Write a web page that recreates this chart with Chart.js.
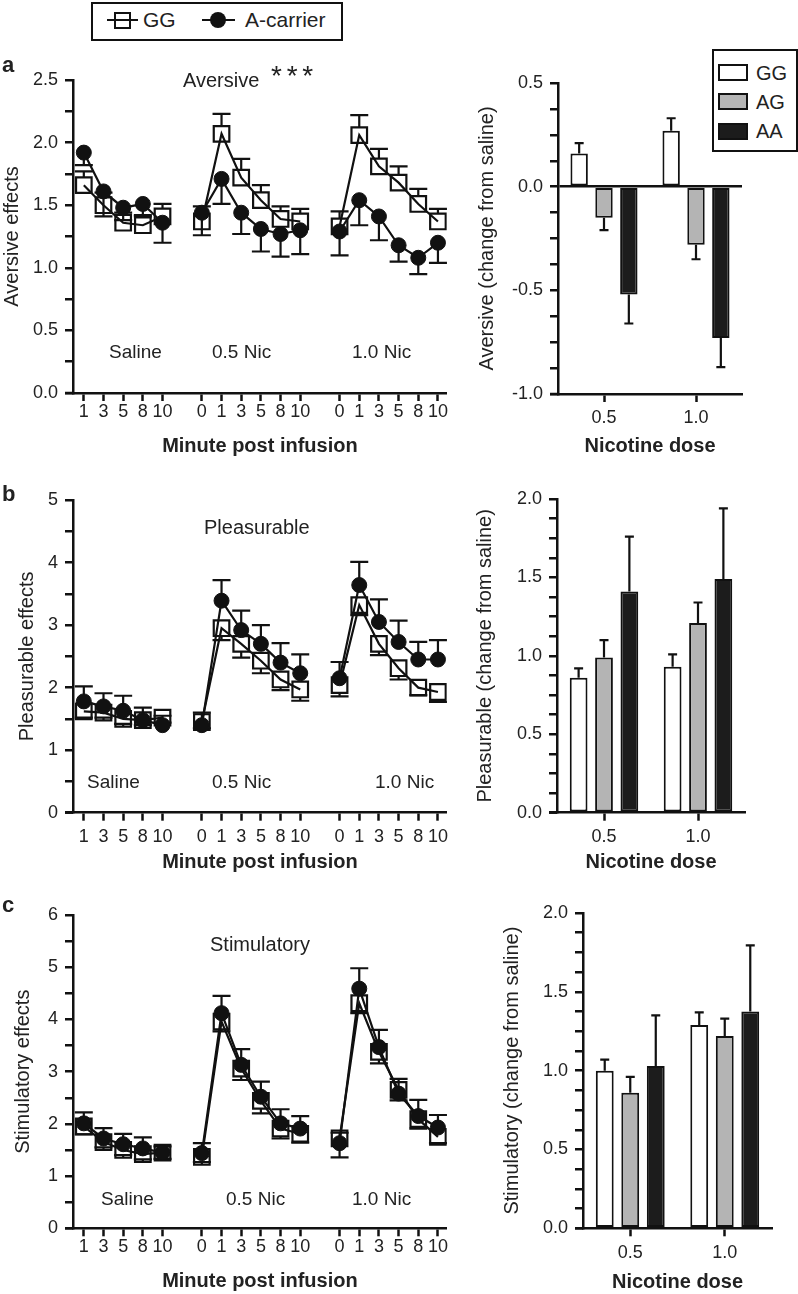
<!DOCTYPE html>
<html>
<head>
<meta charset="utf-8">
<script src="https://cdn.jsdelivr.net/npm/chart.js@4.4.0/dist/chart.umd.min.js"></script>
<style>
  body { margin: 0; background: #fff; width: 798px; height: 1294px; position: relative; overflow: hidden;
         font-family: "Liberation Sans", Arial, sans-serif; color: #222; }
  canvas { position: absolute; }
  .t { position: absolute; white-space: nowrap; line-height: 1; }
  .lbl { font-size: 22px; font-weight: bold; }
  .ann { font-size: 19px; }
  .ttl { font-size: 20px; }
  .box { position: absolute; border: 2px solid #111; box-sizing: border-box; background: #fff; }
  .sw { position: absolute; border: 2px solid #111; box-sizing: border-box; }
</style>
</head>
<body>
<canvas id="aLeft"></canvas>
<canvas id="aRight"></canvas>
<canvas id="bLeft"></canvas>
<canvas id="bRight"></canvas>
<canvas id="cLeft"></canvas>
<canvas id="cRight"></canvas>

<!-- legend for line panels -->
<div class="box" style="left:91px;top:2px;width:252px;height:39px;"></div>
<div style="position:absolute;left:107px;top:19px;width:31px;height:2px;background:#111"></div>
<div style="position:absolute;left:114px;top:12px;width:17px;height:17px;border:2px solid #111;box-sizing:border-box"></div>
<div class="t" style="left:143px;top:9px;font-size:21px">GG</div>
<div style="position:absolute;left:202px;top:19px;width:33px;height:2px;background:#111"></div>
<div style="position:absolute;left:210px;top:12px;width:16px;height:16px;border-radius:50%;background:#111"></div>
<div class="t" style="left:245px;top:9px;font-size:21px">A-carrier</div>

<!-- legend for bar panels -->
<div class="box" style="left:712px;top:49px;width:86px;height:103px;"></div>
<div class="sw" style="left:718px;top:64px;width:30px;height:17px;background:#fff"></div>
<div class="sw" style="left:718px;top:93px;width:30px;height:17px;background:#b4b4b4"></div>
<div class="sw" style="left:718px;top:123px;width:30px;height:17px;background:#1c1c1c"></div>
<div class="t ttl" style="left:756px;top:63px">GG</div>
<div class="t ttl" style="left:756px;top:92px">AG</div>
<div class="t ttl" style="left:756px;top:121px">AA</div>

<!-- panel letters and in-plot labels -->
<div class="t lbl" style="left:2px;top:54px">a</div>
<div class="t lbl" style="left:2px;top:483px">b</div>
<div class="t lbl" style="left:2px;top:894px">c</div>

<div class="t ttl" style="left:183px;top:70px">Aversive</div>
<div class="t" style="left:271px;top:62px;font-size:28px;word-spacing:-3px">* * *</div>
<div class="t ann" style="left:109px;top:342px">Saline</div>
<div class="t ann" style="left:212px;top:342px">0.5 Nic</div>
<div class="t ann" style="left:352px;top:342px">1.0 Nic</div>

<div class="t ttl" style="left:204px;top:517px">Pleasurable</div>
<div class="t ann" style="left:87px;top:772px">Saline</div>
<div class="t ann" style="left:212px;top:772px">0.5 Nic</div>
<div class="t ann" style="left:375px;top:772px">1.0 Nic</div>

<div class="t ttl" style="left:210px;top:934px">Stimulatory</div>
<div class="t ann" style="left:101px;top:1189px">Saline</div>
<div class="t ann" style="left:226px;top:1189px">0.5 Nic</div>
<div class="t ann" style="left:352px;top:1189px">1.0 Nic</div>

<script>
// ---- data: minute labels ----
const salineMinutes = [1, 3, 5, 8, 10];
const nicMinutes = [0, 1, 3, 5, 8, 10];
const doseLabels = ['0.5', '1.0'];

// line panels: saline (5) + 0.5 Nic (6) + 1.0 Nic (6)
const aversiveGG     = [1.66, 1.50, 1.36, 1.34, 1.41,  1.37, 2.07, 1.72, 1.54, 1.39, 1.37,  1.33, 2.06, 1.81, 1.68, 1.51, 1.37];
const aversiveGGErr  = [0.11, 0.10, 0.08, 0.08, 0.10,  0.12, 0.16, 0.15, 0.12, 0.10, 0.10,  0.12, 0.16, 0.14, 0.13, 0.12, 0.10];
const aversiveAC     = [1.92, 1.61, 1.48, 1.51, 1.36,  1.44, 1.71, 1.44, 1.31, 1.27, 1.30,  1.29, 1.54, 1.41, 1.18, 1.08, 1.20];
const aversiveACErr  = [0.10, 0.20, 0.10, 0.10, 0.16,  0.18, 0.20, 0.17, 0.18, 0.18, 0.19,  0.19, 0.20, 0.19, 0.13, 0.13, 0.16];

const pleasGG        = [1.62, 1.60, 1.50, 1.48, 1.52,  1.45, 2.95, 2.70, 2.43, 2.13, 1.97,  2.04, 3.32, 2.70, 2.31, 2.00, 1.93];
const pleasGGErr     = [0.10, 0.08, 0.08, 0.08, 0.08,  0.10, 0.19, 0.22, 0.20, 0.17, 0.18,  0.18, 0.16, 0.18, 0.18, 0.12, 0.16];
const pleasAC        = [1.78, 1.70, 1.63, 1.48, 1.40,  1.40, 3.39, 2.92, 2.70, 2.40, 2.23,  2.15, 3.64, 3.05, 2.73, 2.45, 2.45];
const pleasACErr     = [0.24, 0.21, 0.24, 0.20, 0.15,  0.20, 0.33, 0.31, 0.30, 0.31, 0.30,  0.26, 0.37, 0.36, 0.34, 0.28, 0.31];

const stimGG         = [1.95, 1.65, 1.50, 1.42, 1.45,  1.37, 3.96, 3.06, 2.44, 1.91, 1.81,  1.72, 4.31, 3.38, 2.65, 2.09, 1.75];
const stimGGErr      = [0.15, 0.10, 0.10, 0.10, 0.12,  0.10, 0.19, 0.22, 0.24, 0.19, 0.17,  0.36, 0.19, 0.22, 0.20, 0.18, 0.12];
const stimAC         = [2.01, 1.72, 1.61, 1.53, 1.45,  1.44, 4.12, 3.13, 2.52, 2.01, 1.91,  1.63, 4.59, 3.47, 2.58, 2.15, 1.93];
const stimACErr      = [0.21, 0.20, 0.20, 0.21, 0.12,  0.19, 0.33, 0.30, 0.29, 0.27, 0.24,  0.20, 0.39, 0.33, 0.28, 0.31, 0.24];

// bar panels: change from saline at 0.5 and 1.0 nicotine dose
const aversiveBarGG = [0.16, 0.27],  aversiveBarGGErr = [0.05, 0.06];
const aversiveBarAG = [-0.15, -0.28], aversiveBarAGErr = [0.06, 0.07];
const aversiveBarAA = [-0.52, -0.73], aversiveBarAAErr = [0.14, 0.14];

const pleasBarGG = [0.86, 0.93], pleasBarGGErr = [0.06, 0.08];
const pleasBarAG = [0.99, 1.21], pleasBarAGErr = [0.11, 0.13];
const pleasBarAA = [1.41, 1.49], pleasBarAAErr = [0.35, 0.45];

const stimBarGG = [1.00, 1.29], stimBarGGErr = [0.07, 0.08];
const stimBarAG = [0.86, 1.22], stimBarAGErr = [0.10, 0.11];
const stimBarAA = [1.03, 1.375], stimBarAAErr = [0.32, 0.42];

// ---- styling ----
const INK = '#111';
const TXT = '#222';
const FONT = '"Liberation Sans", Arial, sans-serif';

// x slots: saline 0..4, gap, 0.5 Nic 6..11, gap, 1.0 Nic 13..18
const xPos = [];
const xTickText = {};
salineMinutes.forEach((m, i) => { xPos.push(i); xTickText[i] = String(m); });
nicMinutes.forEach((m, i) => { xPos.push(6 + i); xTickText[6 + i] = String(m); });
nicMinutes.forEach((m, i) => { xPos.push(13 + i); xTickText[13 + i] = String(m); });

function withBreaks(vals, mk) {
  const out = [];
  vals.forEach((v, i) => {
    if (i === 5 || i === 11) out.push(mk(xPos[i] - 1, null));
    out.push(mk(xPos[i], v));
  });
  return out;
}
const toPoints = vals => withBreaks(vals, (x, y) => ({ x: x, y: y }));
const toErr = vals => withBreaks(vals, (x, y) => y);

// error bars drawn through the chart's own y scale
const errorBars = {
  id: 'errorBars',
  beforeDatasetsDraw(chart) { drawErrors(chart, 'line'); },
  afterDatasetsDraw(chart) { drawErrors(chart, 'bar'); },
  afterDraw(chart) {
    // x axis line runs on past the y axis to the end of its ticks, as in the figure
    const { ctx, chartArea } = chart;
    ctx.save();
    ctx.strokeStyle = INK;
    ctx.lineWidth = 2.5;
    ctx.beginPath();
    ctx.moveTo(chartArea.left - 8, chartArea.bottom);
    ctx.lineTo(chartArea.left, chartArea.bottom);
    ctx.stroke();
    ctx.restore();
  }
};
function drawErrors(chart, type) {
  const ctx = chart.ctx;
  const ys = chart.scales.y;
  chart.data.datasets.forEach((ds, i) => {
    const meta = chart.getDatasetMeta(i);
    if (!ds.errors || meta.type !== type) return;
    ctx.save();
    ctx.strokeStyle = INK;
    ctx.lineWidth = 2.2;
    meta.data.forEach((el, j) => {
      const raw = ds.data[j];
      const v = (raw !== null && typeof raw === 'object') ? raw.y : raw;
      const e = ds.errors[j];
      if (v == null || e == null) return;
      const dir = ds.errDir || (v < 0 ? -1 : 1);
      const yEnd = ys.getPixelForValue(v + dir * e);
      let yStart = type === 'bar' ? el.y : ys.getPixelForValue(v);
      if (ds.pointStyle === 'rect') yStart -= dir * 8;
      const cap = type === 'bar' ? 9 : 18;
      ctx.beginPath();
      ctx.moveTo(el.x, yStart);
      ctx.lineTo(el.x, yEnd);
      ctx.moveTo(el.x - cap / 2, yEnd);
      ctx.lineTo(el.x + cap / 2, yEnd);
      ctx.stroke();
    });
    ctx.restore();
  });
}

function place(id, g) {
  const c = document.getElementById(id);
  c.width = g.w; c.height = g.h;
  c.style.left = g.left + 'px'; c.style.top = g.top + 'px';
  c.style.width = g.w + 'px'; c.style.height = g.h + 'px';
  return c;
}

function yAxis(g, min, max, step, labelStep, decimals, title, zeroLine) {
  const n = Math.round((max - min) / step);
  return {
    type: 'linear', min: min, max: max,
    afterFit: s => { s.width = g.yW; },
    afterBuildTicks: s => {
      const t = [];
      for (let i = 0; i <= n; i++) t.push({ value: +(min + i * step).toFixed(4) });
      s.ticks = t;
    },
    ticks: {
      autoSkip: false, color: TXT, padding: 7, font: { family: FONT, size: 18 },
      callback: v => {
        const k = v / labelStep;
        return Math.abs(k - Math.round(k)) < 1e-6 ? (Math.abs(v) < 1e-9 ? 0 : v).toFixed(decimals) : '';
      }
    },
    grid: {
      drawOnChartArea: !!zeroLine,
      color: c => (zeroLine && c.tick && Math.abs(c.tick.value) < 1e-9) ? INK : 'rgba(0,0,0,0)',
      lineWidth: 2.5, tickLength: 8, tickWidth: 2.5, tickColor: INK
    },
    border: { color: INK, width: 2.5 },
    title: { display: true, text: title, color: TXT, font: { family: FONT, size: 20 }, padding: { top: g.yTitlePad, bottom: 0 } }
  };
}

function xTitle(text) {
  return { display: true, text: text, color: TXT, font: { family: FONT, size: 20, weight: 'bold' }, padding: { top: 0, bottom: 0 } };
}

function lineChart(id, g, cfg) {
  const canvas = place(id, g);
  return new Chart(canvas, {
    type: 'line',
    data: {
      datasets: [
        { label: 'A-carrier', data: toPoints(cfg.ac), errors: toErr(cfg.acErr), errDir: cfg.acDir, order: 0,
          pointStyle: 'circle', pointRadius: 7.5, pointBackgroundColor: INK, pointBorderColor: INK, pointBorderWidth: 1,
          borderColor: INK, borderWidth: 2.2 },
        { label: 'GG', data: toPoints(cfg.gg), errors: toErr(cfg.ggErr), errDir: cfg.ggDir, order: 1,
          pointStyle: 'rect', pointRadius: 11, pointBackgroundColor: 'rgba(0,0,0,0)', pointBorderColor: INK, pointBorderWidth: 2.2,
          borderColor: INK, borderWidth: 2.2 }
      ]
    },
    options: {
      responsive: false, animation: false, events: [],
      layout: { padding: { top: g.padTop, right: g.padRight, left: 0, bottom: 0 } },
      plugins: { legend: { display: false }, tooltip: { enabled: false } },
      scales: {
        x: {
          type: 'linear', min: -0.55, max: 18.45,
          afterFit: s => { s.height = g.xH; },
          afterBuildTicks: s => { s.ticks = xPos.map(v => ({ value: v })); },
          ticks: { autoSkip: false, maxRotation: 0, color: TXT, padding: g.xTickPad, font: { family: FONT, size: 18 },
                   callback: v => xTickText[v] !== undefined ? xTickText[v] : '' },
          grid: { drawOnChartArea: false, tickLength: 8, tickWidth: 2.5, tickColor: INK },
          border: { color: INK, width: 2.5 },
          title: xTitle('Minute post infusion')
        },
        y: yAxis(g, 0, cfg.max, 0.5 * cfg.minor, cfg.labelStep, cfg.dec, cfg.title, false)
      }
    },
    plugins: [errorBars]
  });
}

function barChart(id, g, cfg) {
  const canvas = place(id, g);
  const common = { borderColor: INK, borderWidth: 2, borderSkipped: false, categoryPercentage: 0.81, barPercentage: 0.7 };
  return new Chart(canvas, {
    type: 'bar',
    data: {
      labels: doseLabels,
      datasets: [
        Object.assign({ label: 'GG', data: cfg.gg, errors: cfg.ggErr, backgroundColor: '#ffffff' }, common),
        Object.assign({ label: 'AG', data: cfg.ag, errors: cfg.agErr, backgroundColor: '#b4b4b4' }, common),
        Object.assign({ label: 'AA', data: cfg.aa, errors: cfg.aaErr, backgroundColor: '#1c1c1c' }, common)
      ]
    },
    options: {
      responsive: false, animation: false, events: [],
      layout: { padding: { top: g.padTop, right: g.padRight, left: 0, bottom: 0 } },
      plugins: { legend: { display: false }, tooltip: { enabled: false } },
      scales: {
        x: {
          afterFit: s => { s.height = g.xH; },
          ticks: { color: TXT, padding: g.xTickPad, maxRotation: 0, font: { family: FONT, size: 18 } },
          grid: { drawOnChartArea: false, offset: false, tickLength: 8, tickWidth: 2.5, tickColor: INK },
          border: { color: INK, width: 2.5 },
          title: xTitle('Nicotine dose')
        },
        y: yAxis(g, cfg.min, cfg.max, 0.125, 0.5, 1, cfg.title, cfg.min < 0)
      }
    },
    plugins: [errorBars]
  });
}

// ---- panels ----
lineChart('aLeft', { left: 0, top: 60, w: 460, h: 398, yW: 73, xH: 65, padTop: 20, padRight: 12, yTitlePad: 0, xTickPad: 0 },
  { gg: aversiveGG, ggErr: aversiveGGErr, ggDir: 1, ac: aversiveAC, acErr: aversiveACErr, acDir: -1,
    max: 2.5, minor: 0.5, labelStep: 0.5, dec: 1, title: 'Aversive effects' });

lineChart('bLeft', { left: 0, top: 480, w: 460, h: 394, yW: 73, xH: 61.3, padTop: 20, padRight: 12, yTitlePad: 15, xTickPad: 6 },
  { gg: pleasGG, ggErr: pleasGGErr, ggDir: -1, ac: pleasAC, acErr: pleasACErr, acDir: 1,
    max: 5, minor: 1, labelStep: 1, dec: 0, title: 'Pleasurable effects' });

lineChart('cLeft', { left: 0, top: 895, w: 460, h: 398, yW: 73, xH: 64.7, padTop: 20, padRight: 12, yTitlePad: 11, xTickPad: 0 },
  { gg: stimGG, ggErr: stimGGErr, ggDir: -1, ac: stimAC, acErr: stimACErr, acDir: 1,
    max: 6, minor: 1, labelStep: 1, dec: 0, title: 'Stimulatory effects' });

barChart('aRight', { left: 470, top: 63, w: 328, h: 395, yW: 88, xH: 64, padTop: 20, padRight: 56, yTitlePad: 5, xTickPad: 5 },
  { gg: aversiveBarGG, ggErr: aversiveBarGGErr, ag: aversiveBarAG, agErr: aversiveBarAGErr, aa: aversiveBarAA, aaErr: aversiveBarAAErr,
    min: -1, max: 0.5, title: 'Aversive (change from saline)' });

barChart('bRight', { left: 470, top: 479, w: 328, h: 395, yW: 87, xH: 61.3, padTop: 20, padRight: 53, yTitlePad: 3, xTickPad: 6 },
  { gg: pleasBarGG, ggErr: pleasBarGGErr, ag: pleasBarAG, agErr: pleasBarAGErr, aa: pleasBarAA, aaErr: pleasBarAAErr,
    min: 0, max: 2, title: 'Pleasurable (change from saline)' });

barChart('cRight', { left: 470, top: 893, w: 328, h: 401, yW: 113, xH: 65.7, padTop: 20, padRight: 26, yTitlePad: 30, xTickPad: 6 },
  { gg: stimBarGG, ggErr: stimBarGGErr, ag: stimBarAG, agErr: stimBarAGErr, aa: stimBarAA, aaErr: stimBarAAErr,
    min: 0, max: 2, title: 'Stimulatory (change from saline)' });
</script>
</body>
</html>
